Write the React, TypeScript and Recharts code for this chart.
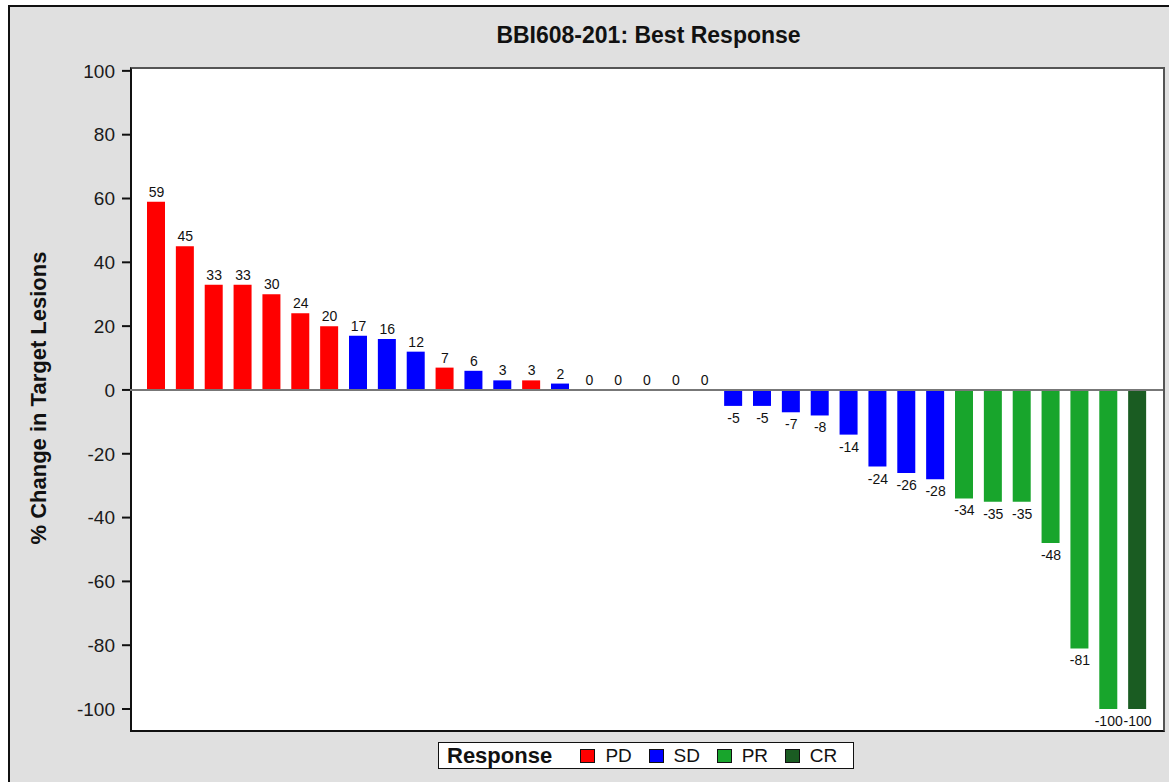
import React from 'react'
import {
    ComposedChart,
    Bar,
    Line,
    XAxis,
    YAxis,
    Cell,
    ReferenceLine
} from 'recharts'

const values = [
    59, 45, 33, 33, 30, 24, 20, 17, 16, 12, 7, 6, 3, 3, 2, 0, 0, 0, 0, 0,
    -5, -5, -7, -8, -14, -24, -26, -28, -34, -35, -35, -48, -81, -100, -100
]
const responses = [
    'PD', 'PD', 'PD', 'PD', 'PD', 'PD', 'PD', 'SD', 'SD', 'SD', 'PD', 'SD', 'SD', 'PD', 'SD',
    'SD', 'SD', 'SD', 'SD', 'SD',
    'SD', 'SD', 'SD', 'SD', 'SD', 'SD', 'SD', 'SD',
    'PR', 'PR', 'PR', 'PR', 'PR', 'PR', 'CR'
]
const responseTypes = ['PD', 'SD', 'PR', 'CR']
const yTicks = [-100, -80, -60, -40, -20, 0, 20, 40, 60, 80, 100]

const colors: Record<string, string> = {
    PD: '#ff0000',
    SD: '#0000ff',
    PR: '#18a52c',
    CR: '#1a5c22'
}

const data = values.map((v, i) => ({ patient: String(i + 1), change: v, response: responses[i] }))

const font = '"Liberation Sans", Arial, sans-serif'

// value labels sit above positive (and zero) bars, below negative ones
function renderLabel(props: any) {
    const { x, y, value } = props
    const ty = value >= 0 ? y - 5 : y + 17
    return (
        <text x={x} y={ty} textAnchor="middle" fontSize={14} fill="#111" fontFamily={font}>
            {value}
        </text>
    )
}

export default function App() {
    return (
        <div
            style={{
                position: 'absolute',
                left: 8,
                top: 5,
                width: 1161,
                height: 777,
                boxSizing: 'border-box',
                borderLeft: '2px solid #111',
                borderTop: '2px solid #111',
                background: '#e0e0e0',
                fontFamily: font,
                overflow: 'hidden'
            }}
        >
            <div
                style={{
                    position: 'absolute',
                    left: 0,
                    top: 15,
                    width: 1277,
                    textAlign: 'center',
                    fontSize: 23,
                    fontWeight: 'bold',
                    color: '#111'
                }}
            >
                BBI608-201: Best Response
            </div>
            <div
                style={{
                    position: 'absolute',
                    left: 29 - 200,
                    top: 391 - 13,
                    width: 400,
                    height: 26,
                    lineHeight: '26px',
                    textAlign: 'center',
                    fontSize: 22,
                    fontWeight: 'bold',
                    color: '#111',
                    transform: 'rotate(-90deg)'
                }}
            >
                % Change in Target Lesions
            </div>
            {/* plot frame: black axes left/bottom, grey edge top/right */}
            <div
                style={{
                    position: 'absolute',
                    left: 120,
                    top: 60,
                    width: 1035,
                    height: 665,
                    boxSizing: 'border-box',
                    background: '#fff',
                    borderTop: '2px solid #555',
                    borderRight: '2px solid #555',
                    borderLeft: '2px solid #111',
                    borderBottom: '2px solid #111'
                }}
            />
            <div style={{ position: 'absolute', left: 0, top: 0 }}>
                <ComposedChart
                    width={1159}
                    height={775}
                    data={data}
                    margin={{ top: 61, right: 6, left: 0, bottom: 50 }}
                >
                    <XAxis
                        dataKey="patient"
                        height={0}
                        tick={false}
                        tickLine={false}
                        axisLine={false}
                        padding={{ left: 12, right: 11 }}
                    />
                    <YAxis
                        width={120}
                        domain={[-107.2, 100.9]}
                        ticks={yTicks}
                        interval={0}
                        tickSize={8}
                        tickMargin={7}
                        axisLine={false}
                        tickLine={{ stroke: '#111', strokeWidth: 2 }}
                        tick={{ fill: '#1a1a1a', fontSize: 19, fontFamily: font }}
                    />
                    <ReferenceLine y={0} stroke="#777" strokeWidth={2} />
                    <Bar dataKey="change" barSize={18} isAnimationActive={false}>
                        {data.map((d, i) => (
                            <Cell key={`cell-${i}`} fill={colors[d.response]} />
                        ))}
                    </Bar>
                    <Line
                        dataKey="change"
                        stroke="none"
                        dot={false}
                        activeDot={false}
                        isAnimationActive={false}
                        label={renderLabel}
                    />
                </ComposedChart>
            </div>
            <div
                style={{
                    position: 'absolute',
                    left: 428,
                    top: 735,
                    width: 416,
                    height: 27,
                    boxSizing: 'border-box',
                    border: '1px solid #111',
                    background: '#fff',
                    display: 'flex',
                    alignItems: 'center',
                    color: '#111'
                }}
            >
                <span style={{ fontSize: 22, fontWeight: 'bold', marginLeft: 8, width: 136 }}>
                    Response
                </span>
                {responseTypes.map(r => (
                    <span key={r} style={{ display: 'flex', alignItems: 'center', width: 69.5 }}>
                        <span
                            style={{
                                display: 'inline-block',
                                width: 15,
                                height: 14,
                                boxSizing: 'border-box',
                                border: '1px solid #111',
                                background: colors[r],
                                marginRight: 10
                            }}
                        />
                        <span style={{ fontSize: 19 }}>{r}</span>
                    </span>
                ))}
            </div>
        </div>
    )
}
